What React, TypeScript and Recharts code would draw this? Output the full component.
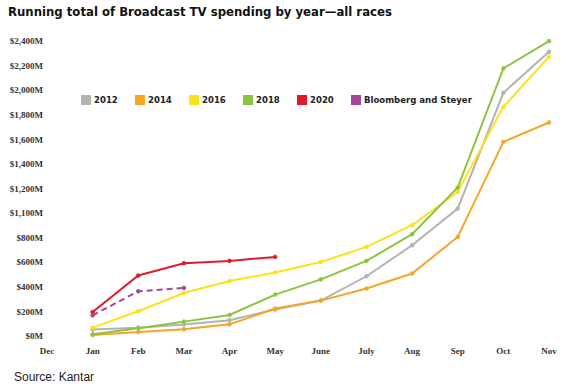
import { LineChart, Line, XAxis, YAxis, ReferenceLine, Legend } from 'recharts'

const months = ['Dec', 'Jan', 'Feb', 'Mar', 'Apr', 'May', 'June', 'July', 'Aug', 'Sep', 'Oct', 'Nov']

// y ticks as printed (the source chart labels 1,000 as "$1,100M")
const yTicks = [0, 200, 400, 600, 800, 1000, 1200, 1400, 1600, 1800, 2000, 2200, 2400]
const yTickLabels = ['$0M', '$200M', '$400M', '$600M', '$800M', '$1,100M', '$1,200M', '$1,400M', '$1,600M', '$1,800M', '$2,000M', '$2,200M', '$2,400M']

// values in $M, Jan..Nov (null where the series stops)
const s2012 = [52, 68, 93, 128, 215, 288, 486, 738, 1037, 1978, 2312]
const s2014 = [8, 33, 55, 95, 223, 288, 386, 508, 806, 1579, 1737]
const s2016 = [68, 201, 350, 448, 516, 602, 725, 901, 1172, 1864, 2271]
const s2018 = [14, 63, 117, 171, 337, 461, 611, 828, 1208, 2177, 2399]
const s2020 = [195, 492, 592, 611, 643]
const bloomberg = [168, 364, 391]

const threshold = 680

const series = [
  { key: 'y2012', name: '2012', color: '#b3b3b3', values: s2012 },
  { key: 'y2014', name: '2014', color: '#f5a623', values: s2014 },
  { key: 'y2016', name: '2016', color: '#fce21a', values: s2016 },
  { key: 'y2018', name: '2018', color: '#8cc43f', values: s2018 },
  { key: 'y2020', name: '2020', color: '#e11b2c', values: s2020 },
  { key: 'bloom', name: 'Bloomberg and Steyer', color: '#a3479b', values: bloomberg, dashed: true }
]

const data = months.map((m, i) => {
  const row: Record<string, number | string | null> = { idx: i, month: m }
  series.forEach((s) => {
    const v = i === 0 ? undefined : s.values[i - 1]
    row[s.key] = v === undefined ? null : v
  })
  return row
})

const condensed = "'Liberation Sans Narrow', 'DejaVu Sans Condensed', Arial, sans-serif"
const tickFont = { fontSize: 9, fill: '#333', fontFamily: "'Liberation Serif', serif", fontWeight: 600 }

function LegendRow() {
  return (
    <div style={{ display: 'flex', position: 'absolute', left: 81, top: 94 }}>
      {series.map((s) => (
        <div key={s.key} style={{ display: 'flex', alignItems: 'center', width: 54, flexShrink: 0 }}>
          <span
            style={{ display: 'inline-block', width: 10, height: 10, background: s.color, marginRight: 3, flexShrink: 0 }}
          />
          <span style={{ fontFamily: condensed, fontWeight: 700, fontSize: 9.5, color: '#222', whiteSpace: 'nowrap' }}>
            {s.name}
          </span>
        </div>
      ))}
    </div>
  )
}

export default function App() {
  return (
    <div style={{ position: 'absolute', left: 0, top: 0, width: 575, height: 388, background: '#fff' }}>
      <div
        style={{
          position: 'absolute',
          left: 8,
          top: 4,
          fontFamily: condensed,
          fontWeight: 700,
          fontSize: 13,
          color: '#111',
          whiteSpace: 'nowrap'
        }}
      >
        Running total of Broadcast TV spending by year—all races
      </div>
      <LineChart width={575} height={388} data={data} margin={{ top: 41, right: 26, left: 0, bottom: 32 }}>
        <XAxis
          dataKey="idx"
          type="number"
          domain={[0, 11]}
          ticks={months.map((_, i) => i)}
          tickFormatter={(v) => months[v]}
          axisLine={false}
          tickLine={false}
          tickSize={0}
          tickMargin={12}
          height={20}
          tick={tickFont}
          interval={0}
        />
        <YAxis
          width={47}
          domain={[0, 2400]}
          ticks={yTicks}
          tickFormatter={(v) => yTickLabels[yTicks.indexOf(v)]}
          axisLine={false}
          tickLine={false}
          tickSize={0}
          tickMargin={4}
          tick={tickFont}
          interval={0}
        />
        <ReferenceLine
          segment={[
            { x: 0.35, y: threshold },
            { x: 11.08, y: threshold }
          ]}
          stroke="#333"
          strokeDasharray="1 2"
          strokeWidth={1}
        />
        <Legend content={() => null} />
        {series.map((s) => (
          <Line
            key={s.key}
            dataKey={s.key}
            name={s.name}
            stroke={s.color}
            strokeWidth={2}
            strokeDasharray={s.dashed ? '6 4' : undefined}
            dot={{ r: 1.8, fill: s.color, stroke: s.color, strokeWidth: 1, strokeDasharray: '' }}
            isAnimationActive={false}
            connectNulls={false}
          />
        ))}
      </LineChart>
      <LegendRow />
      <div
        style={{
          position: 'absolute',
          left: 14,
          top: 370,
          fontFamily: 'Arial, Liberation Sans, sans-serif',
          fontSize: 12,
          color: '#222'
        }}
      >
        Source: Kantar
      </div>
    </div>
  )
}
